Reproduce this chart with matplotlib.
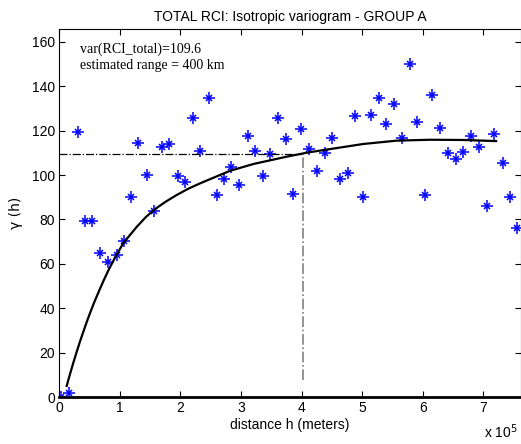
import matplotlib
matplotlib.use("Agg")
import matplotlib.pyplot as plt

# experimental variogram (lag distance in units of 1e5 m, gamma)
lag = [0.03, 0.17, 0.31, 0.43, 0.55, 0.67, 0.80, 0.95, 1.07, 1.19, 1.31, 1.45,
       1.57, 1.70, 1.82, 1.96, 2.08, 2.21, 2.33, 2.47, 2.60, 2.72, 2.84, 2.97,
       3.11, 3.24, 3.36, 3.48, 3.62, 3.74, 3.86, 3.99, 4.13, 4.26, 4.38, 4.50,
       4.64, 4.76, 4.89, 5.02, 5.14, 5.27, 5.40, 5.52, 5.65, 5.79, 5.91, 6.03,
       6.16, 6.29, 6.42, 6.54, 6.67, 6.79, 6.93, 7.06, 7.18, 7.32, 7.44, 7.55]
gamma = [0.0, 1.8, 119.3, 79.3, 79.4, 64.7, 60.9, 64.2, 70.4, 90.2, 114.4, 100.0,
         83.9, 112.6, 114.0, 99.5, 96.7, 125.6, 111.0, 134.7, 90.8, 98.2, 103.7, 95.5,
         117.7, 111.0, 99.5, 109.5, 125.6, 116.1, 91.4, 120.8, 111.7, 101.9, 110.1, 116.7,
         98.1, 101.0, 126.6, 90.2, 126.9, 134.9, 123.0, 131.9, 116.8, 150.2, 123.8, 91.0,
         135.9, 121.3, 109.9, 107.1, 110.5, 117.6, 112.5, 86.0, 118.3, 105.3, 90.1, 76.2]

# fitted model curve
fit_x = [0.127, 0.18, 0.236, 0.29, 0.35, 0.40, 0.46, 0.51, 0.57, 0.62, 0.68, 0.74,
         0.81, 0.92, 1.06, 1.28, 1.43, 1.58, 1.76, 1.94, 2.13, 2.33, 2.82, 3.21,
         3.76, 4.09, 4.47, 5.02, 5.57, 6.12, 6.67, 7.21]
fit_y = [5.0, 10.2, 15.4, 20.2, 25.3, 29.3, 34.0, 37.7, 41.9, 45.2, 49.0, 52.7,
         56.8, 62.6, 69.3, 76.6, 81.0, 84.6, 88.0, 91.0, 93.8, 96.3, 101.9, 105.0,
         108.3, 110.1, 111.7, 114.0, 115.5, 115.9, 115.8, 115.3]

sill = 109.6
rng = 4.03
scale = 1e5

fig = plt.figure(figsize=(5.21, 4.44), dpi=100)
ax = fig.add_axes([59/521, 47/444, 462/521, 368/444])
plt.rcParams['font.family'] = ['Liberation Sans', 'DejaVu Sans']

xs = [v * scale for v in lag]
ax.plot(xs, gamma, ls='none', marker='+', ms=9, mew=1.1, color='#0000ff')
ax.plot(xs, gamma, ls='none', marker='x', ms=5, mew=1.1, color='#0000ff')
ax.plot([v * scale for v in fit_x], fit_y, color='black', lw=1.6,
        solid_joinstyle='round')

ax.plot([0, rng * scale], [sill, sill], color='black', ls='-.', lw=0.9)
ax.plot([rng * scale, rng * scale], [7.5, sill], color='#808080', ls='-.', lw=1.2)

ax.set_xlim(0, 7.62e5)
ax.set_ylim(0, 165.8)
ax.set_xticks([i * scale for i in range(8)])
ax.set_xticklabels([str(i) for i in range(8)], fontfamily='Liberation Sans', fontsize=10)
ax.set_yticks(range(0, 161, 20))
ax.set_yticklabels([str(v) for v in range(0, 161, 20)], fontfamily='Liberation Sans', fontsize=10)
ax.tick_params(direction='in', top=True, right=True, length=4, width=0.8, pad=3)
for s in ['left', 'top', 'right']:
    ax.spines[s].set_linewidth(0.8)
ax.spines['bottom'].set_linewidth(2.0)

ax.set_title('TOTAL RCI: Isotropic variogram - GROUP A', fontfamily='Liberation Sans',
             fontsize=10, pad=6)
ax.set_xlabel('distance h (meters)', fontfamily='Liberation Sans', fontsize=10, labelpad=2)
ax.set_ylabel('\u03b3 (h)', fontfamily='DejaVu Sans', fontsize=10, labelpad=6)
ax.text(0.992, -0.112, 'x 10$^5$', transform=ax.transAxes, ha='right', va='baseline',
        fontfamily='Liberation Sans', fontsize=10)

ax.text(0.045, 0.963, 'var(RCI_total)=109.6\nestimated range = 400 km',
        transform=ax.transAxes, ha='left', va='top', fontfamily='Liberation Serif',
        fontsize=10, linespacing=1.25)

fig.savefig('out.png', dpi=100)
